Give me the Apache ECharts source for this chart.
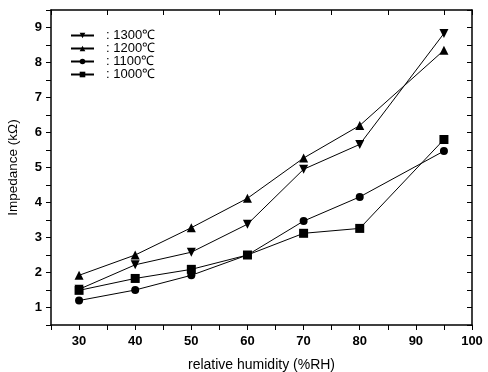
<!DOCTYPE html>
<html><head><meta charset="utf-8">
<script src="https://cdn.jsdelivr.net/npm/echarts@6/dist/echarts.min.js"></script>
<style>html,body{margin:0;padding:0;background:#fff}#c{width:488px;height:372px}</style>
</head><body><div id="c"></div>
<script>
const humidity = [30, 40, 50, 60, 70, 80, 95];
const s1300 = [1.52, 2.22, 2.58, 3.38, 4.95, 5.66, 8.83];
const s1200 = [1.92, 2.5, 3.28, 4.12, 5.27, 6.2, 8.35];
const s1100 = [1.2, 1.5, 1.92, 2.5, 3.47, 4.16, 5.47];
const s1000 = [1.49, 1.83, 2.09, 2.5, 3.12, 3.26, 5.8];
const names = [': 1300\u2103', ': 1200\u2103', ': 1100\u2103', ': 1000\u2103'];
const xTicks = [30, 40, 50, 60, 70, 80, 90, 100];
const yTicks = [1, 2, 3, 4, 5, 6, 7, 8, 9];

const font = 'Arial, "Liberation Sans", sans-serif';
function mk(name, vals, symbol, rot) {
  return {
    name, type: 'line', data: humidity.map((h, i) => [h, vals[i]]),
    symbol, symbolSize: symbol === 'circle' ? 8 : 9, symbolRotate: rot,
    lineStyle: { color: '#000', width: 1 }, itemStyle: { color: '#000' },
    animation: false
  };
}
const chart = echarts.init(document.getElementById('c'));
const axLine = { show: true, lineStyle: { color: '#000', width: 1.5 } };
chart.setOption({
  backgroundColor: '#fff',
  grid: { left: 51, right: 16, top: 10, bottom: 47, containLabel: false, outerBoundsMode: 'none' },
  legend: {
    orient: 'vertical', left: 65, top: 24, itemWidth: 23, itemHeight: 7, itemGap: 0,
    data: names,
    textStyle: { fontFamily: font, fontSize: 13, lineHeight: 13, color: '#000', padding: [0, 0, 0, 7] }
  },
  xAxis: [{
    type: 'value', min: 25, max: 100, interval: 5,
    name: 'relative humidity (%RH)', nameLocation: 'middle', nameGap: 33,
    nameTextStyle: { fontFamily: font, fontSize: 14, color: '#000' },
    axisLine: axLine,
    axisTick: { show: true, inside: false, length: 5, lineStyle: { color: '#000' } },
    axisLabel: { color: '#000', fontFamily: font, fontSize: 13, fontWeight: 'bold', margin: 10,
      formatter: v => xTicks.includes(v) ? String(v) : '' },
    splitLine: { show: false }
  }, {
    type: 'value', position: 'top', min: 25, max: 100, interval: 10,
    axisLine: axLine,
    axisTick: { show: true, inside: true, length: 5, lineStyle: { color: '#000' } },
    axisLabel: { show: false }, splitLine: { show: false }
  }],
  yAxis: [{
    type: 'value', min: 0.5, max: 9.5, interval: 0.5,
    name: 'Impedance (k\u03A9)', nameLocation: 'middle', nameGap: 31,
    nameTextStyle: { fontFamily: font, fontSize: 13.5, color: '#000' },
    axisLine: axLine,
    axisTick: { show: true, inside: false, length: 5, lineStyle: { color: '#000' } },
    axisLabel: { color: '#000', fontFamily: font, fontSize: 13, fontWeight: 'bold', margin: 9,
      formatter: v => yTicks.includes(v) ? String(v) : '' },
    splitLine: { show: false }
  }, {
    type: 'value', position: 'right', min: 0.5, max: 9.5, interval: 0.5,
    axisLine: axLine,
    axisTick: { show: true, inside: true, length: 5, lineStyle: { color: '#000' } },
    axisLabel: { show: false }, splitLine: { show: false }
  }],
  series: [
    mk(names[0], s1300, 'triangle', 180),
    mk(names[1], s1200, 'triangle', 0),
    mk(names[2], s1100, 'circle', 0),
    mk(names[3], s1000, 'rect', 0)
  ]
});
</script></body></html>
